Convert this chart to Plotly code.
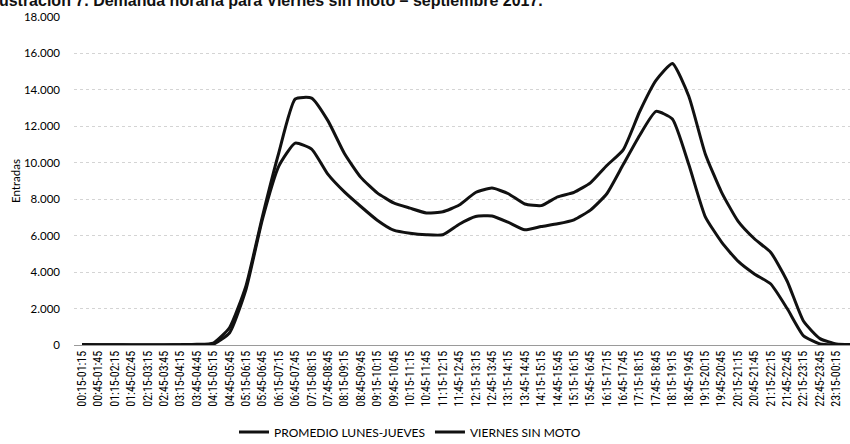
import plotly.graph_objects as go

# --- data -------------------------------------------------------------
starts = ["00:15", "00:45", "01:15", "01:45", "02:15", "02:45", "03:15", "03:45",
          "04:15", "04:45", "05:15", "05:45", "06:15", "06:45", "07:15", "07:45",
          "08:15", "08:45", "09:15", "09:45", "10:15", "10:45", "11:15", "11:45",
          "12:15", "12:45", "13:15", "13:45", "14:15", "14:45", "15:15", "15:45",
          "16:15", "16:45", "17:15", "17:45", "18:15", "18:45", "19:15", "19:45",
          "20:15", "20:45", "21:15", "21:45", "22:15", "22:45", "23:15", "23:45"]
ends = ["01:15", "01:45", "02:15", "02:45", "03:15", "03:45", "04:15", "04:45",
        "05:15", "05:45", "06:15", "06:45", "07:15", "07:45", "08:15", "08:45",
        "09:15", "09:45", "10:15", "10:45", "11:15", "11:45", "12:15", "12:45",
        "13:15", "13:45", "14:15", "14:45", "15:15", "15:45", "16:15", "16:45",
        "17:15", "17:45", "18:15", "18:45", "19:15", "19:45", "20:15", "20:45",
        "21:15", "21:45", "22:15", "22:45", "23:15", "23:45", "00:15", "00:45"]
categories = [f"{a}-{b}" for a, b in zip(starts, ends)]

promedio_lunes_jueves = [20, 10, 10, 5, 5, 5, 10, 20,
                         40, 670, 3060, 6900, 9820, 11080, 10750, 9360,
                         8400, 7600, 6850, 6300, 6130, 6050, 6050, 6630,
                         7050, 7080, 6730, 6320, 6500, 6650, 6870, 7400,
                         8300, 9900, 11500, 12820, 12400, 9900, 7050, 5650,
                         4600, 3900, 3350, 2000, 500, 60, 10, 0]

viernes_sin_moto = [30, 20, 10, 10, 10, 10, 20, 40,
                    110, 960, 3260, 7050, 10550, 13500, 13550, 12300,
                    10510, 9200, 8350, 7800, 7510, 7250, 7310, 7680,
                    8370, 8610, 8300, 7740, 7650, 8130, 8380, 8900,
                    9850, 10710, 12800, 14520, 15450, 13650, 10500, 8380,
                    6800, 5830, 5080, 3500, 1300, 350, 60, 20]

y_ticks = [0, 2000, 4000, 6000, 8000, 10000, 12000, 14000, 16000, 18000]

title_text = "Ilustración 7. Demanda horaria para Viernes sin moto – septiembre 2017."

# --- figure -----------------------------------------------------------
NARROW = "Liberation Sans Narrow, Arial Narrow, Roboto Condensed, Liberation Sans, sans-serif"
HUMAN = "Lato, Open Sans, sans-serif"

fig = go.Figure()
fig.add_trace(go.Scatter(
    x=categories, y=promedio_lunes_jueves, mode="lines",
    name="PROMEDIO LUNES-JUEVES",
    line=dict(color="#111111", width=3, shape="spline", smoothing=0.5)))
fig.add_trace(go.Scatter(
    x=categories, y=viernes_sin_moto, mode="lines",
    name="VIERNES SIN MOTO",
    line=dict(color="#111111", width=3, shape="spline", smoothing=0.5)))

W, H = 850, 444
L, R, T, B = 74, 0, 17, 99
plot_w = W - L - R
plot_h = H - T - B

fig.update_layout(
    width=W, height=H,
    margin=dict(l=L, r=R, t=T, b=B, autoexpand=False),
    paper_bgcolor="white", plot_bgcolor="white",
    separators=",.",
    font=dict(family=NARROW, size=12, color="#000000"),
    showlegend=True,
    legend=dict(orientation="h", x=(410 - L) / plot_w, xanchor="center",
                y=(H - B - 432) / plot_h, yanchor="middle",
                font=dict(family=HUMAN, size=12, color="#000000"),
                itemwidth=30, bgcolor="rgba(0,0,0,0)"),
    xaxis=dict(type="category", range=[-0.49, 46.83],
               tickangle=-90, tickfont=dict(family=NARROW, size=12, color="#000000"),
               showgrid=False, zeroline=False, ticks="",
               showline=True, linecolor="#9a9a9a", linewidth=1),
    yaxis=dict(range=[0, 18000], tickvals=y_ticks, tickformat=",.0f",
               tickfont=dict(family=HUMAN, size=11.5, color="#000000"),
               showgrid=True, gridcolor="#d4d4d4", griddash="dot", gridwidth=1,
               zeroline=False, showline=False, ticks="",
               ticklabelstandoff=13,
               title=dict(text="Entradas", standoff=0,
                          font=dict(family=HUMAN, size=11.5, color="#000000"))),
)

fig.add_annotation(
    text=f"<b>{title_text}</b>", showarrow=False,
    xref="paper", yref="paper",
    x=(545 - L) / plot_w, xanchor="right",
    y=(H - B - 1) / plot_h, yanchor="middle",
    font=dict(family="Liberation Sans, Arial, sans-serif", size=16, color="#111111"))

fig.write_html("out.html",
               config={"displayModeBar": False},
               post_script="document.body.style.margin='0';document.body.style.padding='0';")
